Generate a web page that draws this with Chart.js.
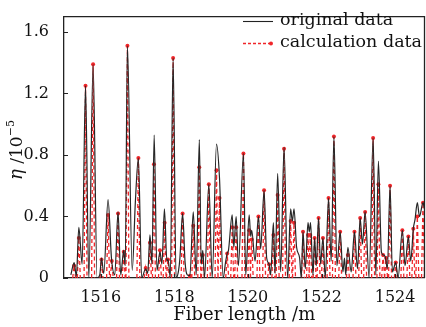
<!DOCTYPE html>
<html>
<head>
<meta charset="utf-8">
<script src="https://cdn.jsdelivr.net/npm/chart.js@4/dist/chart.umd.min.js"></script>
<style>
html,body{margin:0;padding:0;background:#fff;}
#wrap{position:relative;width:426px;height:327px;}
canvas{display:block;}
</style>
</head>
<body>
<div id="wrap"><canvas id="c" width="426" height="327"></canvas></div>
<script>
// ---- data ----
const origX = [1515.186,1515.276,1515.336,1515.403,1515.493,1515.585,1515.675,1515.791,1515.900,1515.973,
1516.019,1516.081,1516.198,1516.290,1516.380,1516.469,1516.542,1516.624,1516.664,1516.724,
1516.854,1516.941,1517.022,1517.112,1517.220,1517.275,1517.337,1517.391,1517.451,1517.527,
1517.608,1517.662,1517.730,1517.798,1517.831,1517.890,1517.966,1518.047,1518.115,1518.151,
1518.224,1518.292,1518.351,1518.422,1518.514,1518.595,1518.679,1518.731,1518.774,1518.820,
1518.937,1519.029,1519.146,1519.227,1519.327,1519.390,1519.436,1519.471,1519.572,1519.615,
1519.680,1519.742,1519.878,1519.940,1520.033,1520.076,1520.103,1520.195,1520.285,1520.347,
1520.439,1520.510,1520.575,1520.618,1520.692,1520.738,1520.808,1520.890,1520.982,1521.079,
1521.161,1521.207,1521.253,1521.323,1521.405,1521.451,1521.497,1521.559,1521.633,1521.668,
1521.703,1521.768,1521.812,1521.858,1521.920,1521.974,1522.039,1522.102,1522.191,1522.264,
1522.338,1522.419,1522.508,1522.582,1522.625,1522.658,1522.717,1522.807,1522.896,1522.978,
1523.051,1523.113,1523.186,1523.295,1523.403,1523.477,1523.547,1523.628,1523.675,1523.729,
1523.791,1523.864,1523.927,1524.019,1524.081,1524.198,1524.271,1524.361,1524.426,1524.496,
1524.542,1524.605,1524.664,1524.759,1524.800];
const origY = [0.02,0.10,0.01,0.33,0.09,1.25,0.00,1.39,0.00,0.02,
0.13,0.03,0.51,0.13,0.02,0.43,0.02,0.18,0.08,1.51,
0.05,0.50,0.78,0.00,0.06,0.03,0.28,0.09,0.93,0.05,
0.17,0.09,0.45,0.11,0.12,0.00,1.43,0.00,0.05,0.13,
0.42,0.10,0.02,0.015,0.43,0.02,0.90,0.09,0.18,0.00,
0.61,0.00,0.87,0.65,0.00,0.10,0.16,0.18,0.41,0.20,
0.40,0.08,0.81,0.02,0.41,0.27,0.31,0.11,0.40,0.19,
0.57,0.13,0.09,0.02,0.36,0.03,0.68,0.04,0.85,0.00,
0.45,0.37,0.45,0.20,0.13,0.00,0.30,0.06,0.36,0.30,
0.36,0.02,0.26,0.08,0.39,0.09,0.26,0.00,0.52,0.11,
0.92,0.08,0.30,0.04,0.13,0.02,0.20,0.04,0.30,0.06,
0.39,0.22,0.43,0.00,0.91,0.02,0.76,0.17,0.15,0.14,
0.06,0.60,0.04,0.10,0.00,0.31,0.08,0.27,0.11,0.32,
0.38,0.49,0.40,0.49,0.45];
const calcX = [1515.276,1515.403,1515.585,1515.791,1516.019,1516.198,1516.298,1516.469,1516.624,1516.724,
1517.022,1517.220,1517.337,1517.445,1517.608,1517.736,1517.825,1517.966,1518.224,1518.422,
1518.514,1518.677,1518.774,1518.937,1519.146,1519.227,1519.436,1519.572,1519.680,1519.878,
1520.033,1520.103,1520.285,1520.439,1520.575,1520.692,1520.808,1520.982,1521.161,1521.253,
1521.497,1521.633,1521.695,1521.812,1521.920,1522.039,1522.191,1522.338,1522.508,1522.717,
1522.896,1523.051,1523.186,1523.403,1523.547,1523.675,1523.756,1523.864,1524.019,1524.198,
1524.361,1524.496,1524.605,1524.759];
const calcY = [0.08,0.26,1.25,1.39,0.12,0.41,0.11,0.42,0.17,1.51,
0.78,0.065,0.23,0.74,0.18,0.36,0.12,1.43,0.42,0.015,
0.34,0.72,0.15,0.61,0.70,0.52,0.16,0.33,0.33,0.81,
0.31,0.25,0.40,0.57,0.09,0.28,0.54,0.84,0.37,0.36,
0.30,0.28,0.28,0.26,0.39,0.26,0.52,0.92,0.30,0.15,
0.30,0.39,0.43,0.91,0.61,0.15,0.13,0.60,0.10,0.31,
0.27,0.32,0.40,0.49];
const xTicks = [1516,1518,1520,1522,1524];
const yTicks = [0,0.4,0.8,1.2,1.6];
const seriesNames = ['original data','calculation data'];
const xTitle = 'Fiber length /m';

// ---- build datasets ----
const origData = origX.map((x,i)=>({x:x,y:origY[i]}));
const stemHalf = 0.04;
const calcData = [];
calcX.forEach((x,i)=>{
  calcData.push({x:x-stemHalf,y:0},{x:x,y:calcY[i]},{x:x+stemHalf,y:0},{x:x+stemHalf,y:null});
});

const FONT = "'DejaVu Serif', serif";
const RED = '#f0262a';

const deco = {
  id:'deco',
  afterDraw(chart){
    const ctx = chart.ctx, a = chart.chartArea;
    const xs = chart.scales.x, ys = chart.scales.y;
    ctx.save();
    ctx.strokeStyle = '#222'; ctx.lineWidth = 1.3;
    ctx.beginPath();
    ctx.moveTo(a.left, a.top); ctx.lineTo(a.right, a.top); ctx.lineTo(a.right, a.bottom);
    ctx.stroke();
    // inward ticks
    ctx.lineWidth = 1.2;
    ctx.beginPath();
    ys.ticks.forEach(t=>{const y = Math.round(ys.getPixelForValue(t.value))+0.5; ctx.moveTo(a.left,y); ctx.lineTo(a.left+4,y);});
    xs.ticks.forEach(t=>{const x = Math.round(xs.getPixelForValue(t.value))+0.5; ctx.moveTo(x,a.bottom); ctx.lineTo(x,a.bottom-4);});
    ctx.stroke();
    // legend
    ctx.font = "17.5px " + FONT;
    ctx.fillStyle = '#111'; ctx.textBaseline = 'middle'; ctx.textAlign = 'left';
    ctx.strokeStyle = '#222'; ctx.lineWidth = 1.1;
    ctx.beginPath(); ctx.moveTo(243,21.5); ctx.lineTo(273,21.5); ctx.stroke();
    ctx.fillText(seriesNames[0], 280, 20);
    ctx.strokeStyle = RED; ctx.lineWidth = 1.3; ctx.setLineDash([3,2]);
    ctx.beginPath(); ctx.moveTo(243,43.5); ctx.lineTo(270,43.5); ctx.stroke();
    ctx.setLineDash([]);
    ctx.fillStyle = RED; ctx.beginPath(); ctx.arc(271,43.5,2,0,Math.PI*2); ctx.fill();
    ctx.fillStyle = '#111';
    ctx.fillText(seriesNames[1], 280, 42);
    // y title: η /10^-5 (rotated)
    ctx.translate(16, 150);
    ctx.rotate(-Math.PI/2);
    const f1 = "italic 18px " + FONT, f2 = "17px " + FONT, f3 = "11px " + FONT;
    const p1 = '\u03b7', p2 = ' /10', p3 = '\u22125';
    ctx.font = f1; const w1 = ctx.measureText(p1).width;
    ctx.font = f2; const w2 = ctx.measureText(p2).width;
    ctx.font = f3; const w3 = ctx.measureText(p3).width;
    let x0 = -(w1+w2+w3)/2;
    ctx.textAlign='left'; ctx.textBaseline='alphabetic';
    ctx.font = f1; ctx.fillText(p1, x0, 6); x0 += w1;
    ctx.font = f2; ctx.fillText(p2, x0, 6); x0 += w2;
    ctx.font = f3; ctx.fillText(p3, x0, -2);
    ctx.restore();
  }
};

new Chart(document.getElementById('c'), {
  type:'line',
  data:{datasets:[
    {label:seriesNames[1], data:calcData, borderColor:RED, borderWidth:1.3, borderDash:[4,3],
     pointRadius:(c)=> (c.dataIndex%4===1 ? 2 : 0), pointBackgroundColor:RED, pointBorderWidth:0,
     tension:0, spanGaps:false, order:2},
    {label:seriesNames[0], data:origData, borderColor:'#262626', borderWidth:1.2, pointRadius:0,
     cubicInterpolationMode:'monotone', order:1}
  ]},
  options:{
    responsive:false, animation:false, devicePixelRatio:1,
    layout:{padding:{left:0,right:1.5,top:7.5,bottom:0}},
    plugins:{legend:{display:false}, tooltip:{enabled:false}},
    scales:{
      x:{type:'linear', min:1515, max:1524.8,
         grid:{display:false}, border:{display:true,color:'#222',width:1.3},
         afterBuildTicks:(s)=>{s.ticks = xTicks.map(v=>({value:v}));},
         afterFit:(s)=>{s.height = 49;},
         ticks:{font:{family:FONT,size:16}, color:'#111', padding:2, maxRotation:0, autoSkip:false,
                callback:(v)=>String(v)},
         title:{display:true, text:xTitle, font:{family:FONT,size:18}, color:'#111', padding:{top:0,bottom:1}}},
      y:{type:'linear', min:0, max:1.7,
         grid:{display:false}, border:{display:true,color:'#222',width:1.3},
         afterBuildTicks:(s)=>{s.ticks = yTicks.map(v=>({value:v}));},
         afterFit:(s)=>{s.width = 64;},
         ticks:{font:{family:FONT,size:16}, color:'#111', padding:7, autoSkip:false,
                callback:(v)=> v===0 ? '0' : v.toFixed(1)}}
    }
  },
  plugins:[deco]
});
</script>
</body>
</html>
